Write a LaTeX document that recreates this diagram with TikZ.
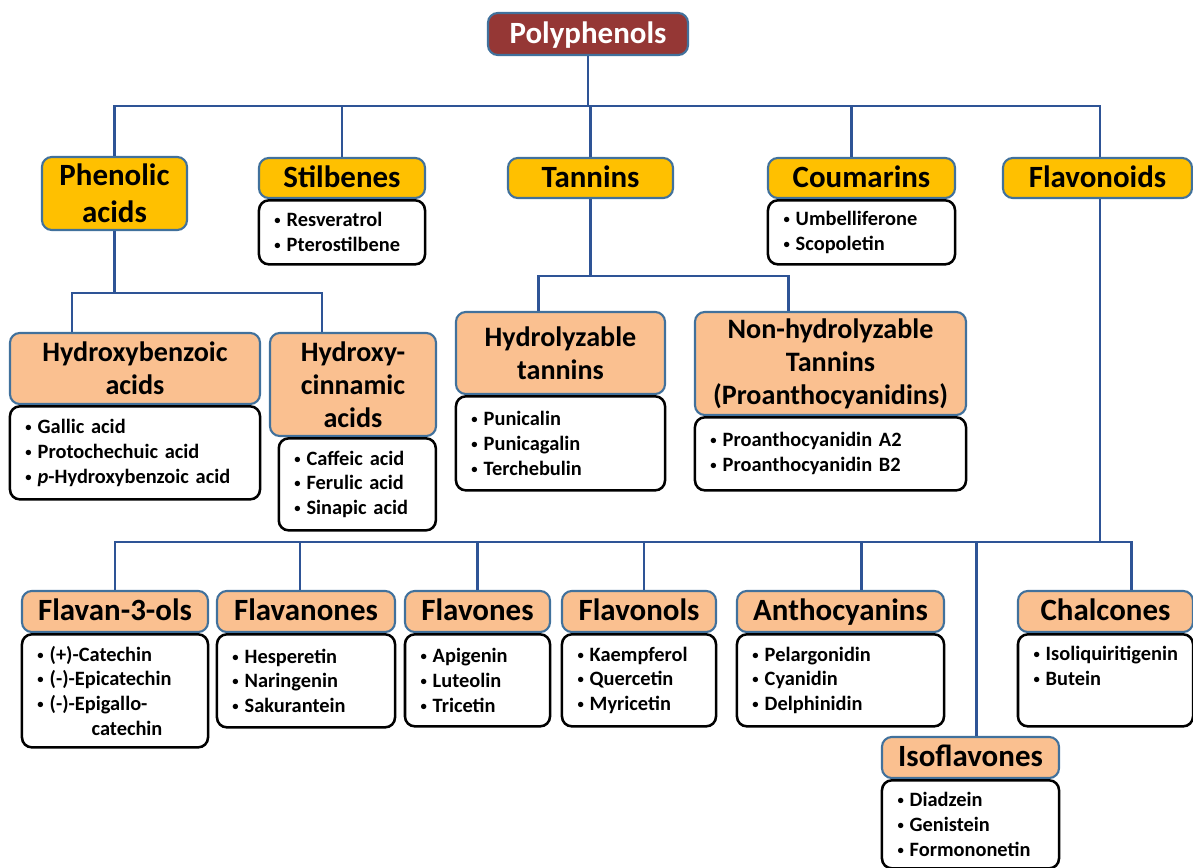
\documentclass[tikz,border=0pt]{standalone}
\usepackage{fontspec}
\setmainfont{Carlito}
\usepackage{xcolor}
\definecolor{rootred}{HTML}{953735}
\definecolor{rimblue}{HTML}{41719C}
\definecolor{linkblue}{HTML}{2E5496}
\definecolor{catgold}{HTML}{FFC000}
\definecolor{subpeach}{HTML}{FAC090}
\usepackage{tikz}
\usetikzlibrary{positioning}

\newcommand{\itm}{\hspace*{2.5pt}\makebox[0.6em][l]{\raisebox{0.2ex}{\fontsize{9}{9}\selectfont\textbullet}}}

\tikzset{
  catbox/.style={draw=rimblue, fill=catgold, line width=1.5pt, rounded corners=7pt,
        inner sep=2pt, align=center, font=\fontsize{22}{26}\selectfont\bfseries},
  subbox/.style={draw=rimblue, fill=subpeach, line width=1.5pt, rounded corners=7pt,
        inner sep=2pt, align=center, font=\fontsize{20}{23.5}\selectfont\bfseries},
  solo/.style={text height=16pt, text depth=3pt},
  itembox/.style={draw=black, fill=white, line width=1.8pt, rounded corners=7pt,
        inner xsep=0.3cm, inner ysep=2pt, align=left, text width=#1,
        font=\fontsize{14.5}{17.7}\selectfont\bfseries},
  branch/.style={draw=linkblue, line width=2pt},
}

\begin{document}
\begin{tikzpicture}[x=0.025cm, y=-0.025cm]

  \useasboundingbox (0,0) rectangle (1193,868);

  % root
  \node[draw=rimblue, fill=rootred, line width=1.5pt, rounded corners=7pt,
        minimum width=5cm, minimum height=1.05cm, text=white, solo,
        font=\fontsize{22}{26}\selectfont\bfseries] (root) at (588,34) {Polyphenols};

  % main classes
  \node[catbox, minimum width=3.625cm, minimum height=1.825cm] (phen) at (114.5,193.5) {Phenolic\\acids};
  \node[catbox, solo, minimum width=4.15cm, minimum height=1cm] (stil) at (342,178) {Stilbenes};
  \node[catbox, solo, minimum width=4.125cm, minimum height=1cm] (tann) at (590.5,178) {Tannins};
  \node[catbox, solo, minimum width=4.675cm, minimum height=1cm] (coum) at (861.5,178) {Coumarins};
  \node[catbox, solo, minimum width=4.725cm, minimum height=1cm] (flvd) at (1097.5,178) {Flavonoids};

  \node[itembox=3.55cm, minimum height=1.6cm, below=0pt of stil] (stilL)
        {\itm Resveratrol\\\itm Pterostilbene};
  \node[itembox=4.075cm, minimum height=1.6cm, below=0pt of coum] (coumL)
        {\itm Umbelliferone\\\itm Scopoletin};

  % phenolic acids
  \node[subbox, minimum width=6.25cm, minimum height=1.775cm] (hbz) at (135,368.5) {Hydroxybenzoic\\acids};
  \node[subbox, minimum width=4.15cm, minimum height=2.575cm] (hcin) at (353,384.5) {Hydroxy-\\cinnamic\\acids};

  \node[itembox=5.65cm, minimum height=2.325cm, below=0pt of hbz] (hbzL)
        {\itm Gallic acid\\\itm Protochechuic acid\\\itm \textit{p}-Hydroxybenzoic acid};
  \node[itembox=3.325cm, minimum height=2.3cm, anchor=north east] (hcinL) at (hcin.south east)
        {\itm Caffeic acid\\\itm Ferulic acid\\\itm Sinapic acid};

  % tannins
  \node[subbox, minimum width=5.225cm, minimum height=2.05cm] (hyd) at (560.5,353) {Hydrolyzable\\tannins};
  \node[subbox, minimum width=6.775cm, minimum height=2.575cm] (nonh) at (830.5,363.5) {Non-hydrolyzable\\Tannins\\(Proanthocyanidins)};

  \node[itembox=4.625cm, minimum height=2.35cm, below=0pt of hyd] (hydL)
        {\itm Punicalin\\\itm Punicagalin\\\itm Terchebulin};
  \node[itembox=6.175cm, minimum height=1.825cm, below=0pt of nonh] (nonhL)
        {\itm Proanthocyanidin A2\\\itm Proanthocyanidin B2};

  % flavonoids
  \tikzset{subbox/.append style={solo, font=\fontsize{22}{26}\selectfont\bfseries}}
  \node[subbox, minimum width=4.65cm, minimum height=1.025cm] (f3o) at (115,611.5) {Flavan-3-ols};
  \node[subbox, minimum width=4.45cm, minimum height=1.025cm] (fnon) at (306,611.5) {Flavanones};
  \node[subbox, minimum width=3.625cm, minimum height=1.025cm] (fone) at (477.5,611.5) {Flavones};
  \node[subbox, minimum width=3.85cm, minimum height=1.025cm] (fnol) at (639,611.5) {Flavonols};
  \node[subbox, minimum width=5.175cm, minimum height=1.025cm] (anth) at (840.5,611.5) {Anthocyanins};
  \node[subbox, minimum width=4.375cm, minimum height=1.025cm] (chal) at (1105.5,611.5) {Chalcones};
  \node[subbox, minimum width=4.425cm, minimum height=1.025cm] (iso) at (970.5,757.5) {Isoflavones};

  \node[itembox=4.05cm, minimum height=2.825cm, below=0pt of f3o] (f3oL)
        {\itm (+)-Catechin\\\itm (-)-Epicatechin\\\itm (-)-Epigallo-\\\hspace*{41pt}catechin};
  \node[itembox=3.85cm, minimum height=2.325cm, below=0pt of fnon] (fnonL)
        {\itm Hesperetin\\\itm Naringenin\\\itm Sakurantein};
  \node[itembox=3.025cm, minimum height=2.3cm, below=0pt of fone] (foneL)
        {\itm Apigenin\\\itm Luteolin\\\itm Tricetin};
  \node[itembox=3.25cm, minimum height=2.3cm, below=0pt of fnol] (fnolL)
        {\itm Kaempferol\\\itm Quercetin\\\itm Myricetin};
  \node[itembox=4.575cm, minimum height=2.3cm, below=0pt of anth] (anthL)
        {\itm Pelargonidin\\\itm Cyanidin\\\itm Delphinidin};
  \node[itembox=3.775cm, minimum height=2.3cm, text depth=38pt, below=0pt of chal] (chalL)
        {\itm Isoliquiritigenin\\\itm Butein};
  \node[itembox=3.825cm, minimum height=2.2cm, below=0pt of iso] (isoL)
        {\itm Diadzein\\\itm Genistein\\\itm Formononetin};

  % tree
  \draw[branch] (root.south) -- ++(0,50) -| (phen.north);
  \draw[branch] (root.south) -- ++(0,50) -| (stil.north);
  \draw[branch] (root.south) -- ++(0,50) -| (tann.north);
  \draw[branch] (root.south) -- ++(0,50) -| ([xshift=-0.25cm]coum.north);
  \draw[branch] (root.south) -- ++(0,50) -| ([xshift=0.06cm]flvd.north);

  \draw[branch] (phen.south) -- ++(0,62) -| ([xshift=-1.575cm]hbz.north);
  \draw[branch] (phen.south) -- ++(0,62) -| ([xshift=-0.775cm]hcin.north);

  \draw[branch] (tann.south) -- ++(0,77) -| ([xshift=-0.54cm]hyd.north);
  \draw[branch] (tann.south) -- ++(0,77) -| ([xshift=-1.04cm]nonh.north);

  \draw[branch] ([xshift=0.06cm]flvd.south) -- ++(0,343) -| (f3o.north);
  \draw[branch] ([xshift=0.06cm]flvd.south) -- ++(0,343) -| ([xshift=-0.15cm]fnon.north);
  \draw[branch] ([xshift=0.06cm]flvd.south) -- ++(0,343) -| (fone.north);
  \draw[branch] ([xshift=0.06cm]flvd.south) -- ++(0,343) -| ([xshift=0.125cm]fnol.north);
  \draw[branch] ([xshift=0.06cm]flvd.south) -- ++(0,343) -| ([xshift=0.525cm]anth.north);
  \draw[branch] ([xshift=0.06cm]flvd.south) -- ++(0,343) -| ([xshift=0.14cm]iso.north);
  \draw[branch] ([xshift=0.06cm]flvd.south) -- ++(0,343) -| ([xshift=0.64cm]chal.north);

\end{tikzpicture}
\end{document}
